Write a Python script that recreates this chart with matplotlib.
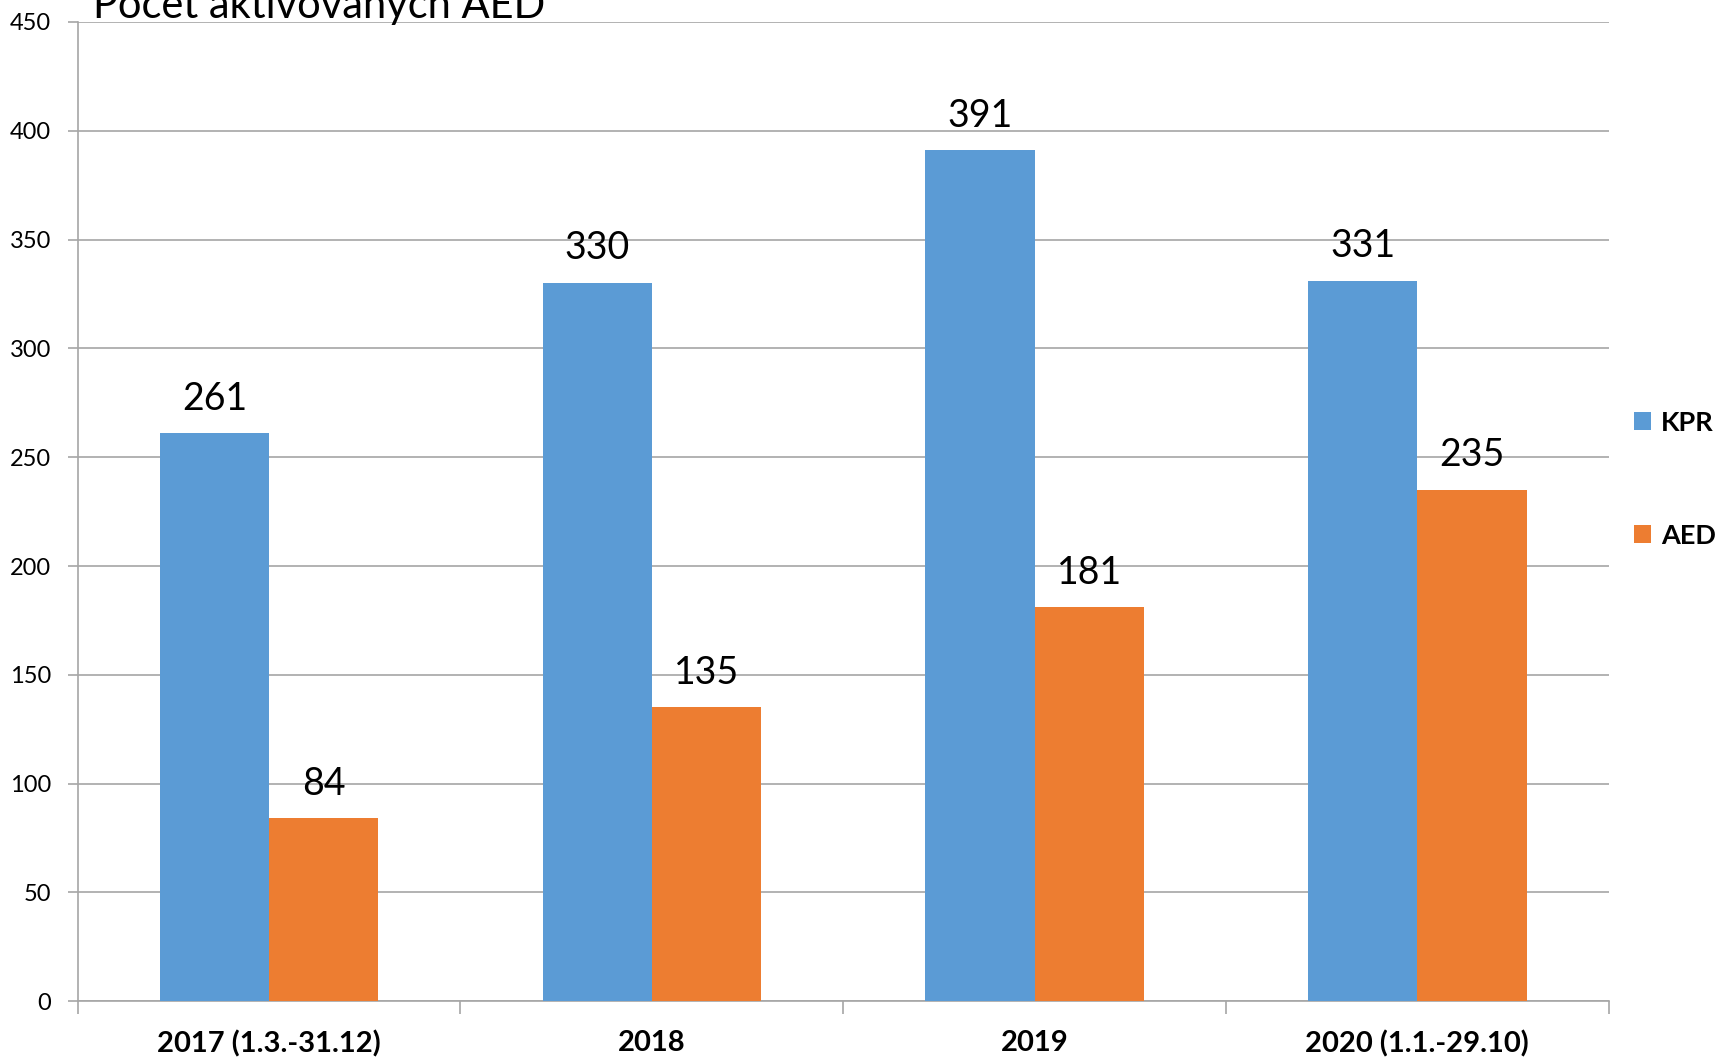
import numpy as np
import matplotlib
matplotlib.use('Agg')
import matplotlib.pyplot as plt

# data
categories = ['2017 (1.3.-31.12)', '2018', '2019', '2020 (1.1.-29.10)']
kpr = [261, 330, 391, 331]
aed = [84, 135, 181, 235]
series_names = ['KPR', 'AED']
title = 'Počet aktivovaných AED'

plt.rcParams['font.family'] = ['Lato', 'DejaVu Sans']

blue = '#5B9BD5'
orange = '#ED7D31'
grid_col = '#A6A6A6'

fig = plt.figure(figsize=(17.16, 10.58), dpi=100)
ax = fig.add_axes([0.0453, 0.0536, 0.8922, 0.9257])

x = np.arange(len(categories))
w = 1 / 3.5
b1 = ax.bar(x - w / 2, kpr, width=w, color=blue, label=series_names[0], zorder=3)
b2 = ax.bar(x + w / 2, aed, width=w, color=orange, label=series_names[1], zorder=3)

# data labels
for bars, vals in ((b1, kpr), (b2, aed)):
    for rect, v in zip(bars, vals):
        ax.annotate(str(v), (rect.get_x() + rect.get_width() / 2, v),
                    xytext=(0, 17), textcoords='offset points',
                    ha='center', va='baseline', fontsize=27, color='black')

ax.set_xlim(-0.5, len(categories) - 0.5)
ax.set_ylim(0, 450)
ax.set_yticks(np.arange(0, 451, 50))
ax.yaxis.grid(True, color=grid_col, linewidth=1.2, zorder=0)

# category boundaries as major ticks, labels on minor ticks
ax.set_xticks(np.arange(len(categories) + 1) - 0.5)
ax.set_xticklabels([])
ax.set_xticks(x, minor=True)
ax.set_xticklabels(categories, minor=True, fontsize=21, fontweight='bold')
ax.tick_params(axis='x', which='major', length=9, color=grid_col, width=1.2)
ax.tick_params(axis='x', which='minor', length=0, pad=21)
ax.tick_params(axis='y', length=7, color=grid_col, width=1.2, pad=12, labelsize=17)

for side in ('top', 'right'):
    ax.spines[side].set_visible(False)
for side in ('left', 'bottom'):
    ax.spines[side].set_color(grid_col)
    ax.spines[side].set_linewidth(1.2)

fig.text(0.0542, 0.983, title, fontsize=30, fontweight='normal',
         ha='left', va='baseline', color='black')

ax.legend(loc='upper left', bbox_to_anchor=(0.952, 0.612),
          bbox_transform=fig.transFigure, frameon=False,
          prop={'weight': 'bold', 'size': 19.5},
          handlelength=0.65, handleheight=0.65, handletextpad=0.35,
          labelspacing=3.3, borderpad=0, borderaxespad=0)

fig.savefig('out.png', dpi=100)
